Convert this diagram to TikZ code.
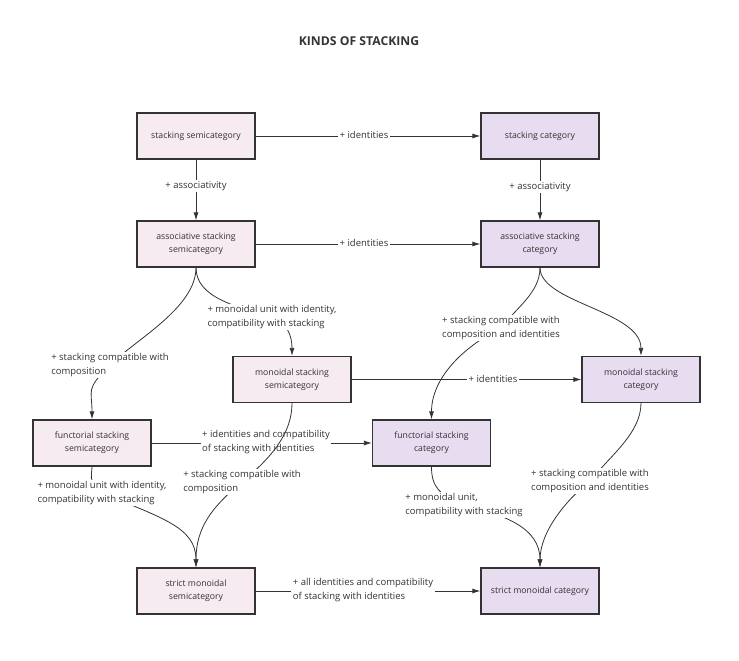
\documentclass[tikz,border=0pt]{standalone}
\usepackage{fontspec}
\setmainfont{Open Sans}
\usetikzlibrary{arrows.meta}
\definecolor{semi}{HTML}{F6EBF0}
\definecolor{cat}{HTML}{E8DCF0}
\definecolor{ink}{HTML}{333333}
\begin{document}
\begin{tikzpicture}[x=1pt,y=-1pt,
  box/.style={draw=ink, line width=1.3pt, minimum width=118pt, minimum height=46pt, align=center, font=\fontsize{8.7}{13}\selectfont, text=ink, inner sep=0pt},
  semibox/.style={box, fill=semi},
  catbox/.style={box, fill=cat},
  lab/.style={fill=white, align=left, font=\fontsize{9.5}{14}\selectfont, text=ink, inner sep=1.5pt},
  arr/.style={draw=ink, line width=0.8pt, -{Latex[length=8pt,width=5pt]}}]
\useasboundingbox (0,0) rectangle (739,661);
\node[font=\bfseries\fontsize{12.2}{14}\selectfont, text=ink] (T) at (359,41) {KINDS OF STACKING};
% boxes
\node[semibox] (A1) at (196,136) {stacking semicategory};
\node[catbox] (A2) at (540,136) {stacking category};
\node[semibox] (A3) at (196,244) {associative stacking\\semicategory};
\node[catbox] (A4) at (540,244) {associative stacking\\category};
\node[semibox] (A5) at (292,379.5) {monoidal stacking\\semicategory};
\node[catbox] (A6) at (641,379.5) {monoidal stacking\\category};
\node[semibox] (A7) at (92,443) {functorial stacking\\semicategory};
\node[catbox] (A8) at (431.5,443) {functorial stacking\\category};
\node[semibox] (A9) at (196,591) {strict monoidal\\semicategory};
\node[catbox] (A10) at (540,591) {strict monoidal category};
% straight edges
\draw[arr] (A1.east) -- (A2.west);
\draw[arr] (A3.east) -- (A4.west);
\draw[arr] (A1.south) -- (A3.north);
\draw[arr] (A2.south) -- (A4.north);
\draw[arr] (A5.east) -- (A6.west);
\draw[arr] (A7.east) -- (A8.west);
\draw[arr] (A9.east) -- (A10.west);
\node[lab] (L12) at (364,135) {+ identities};
\node[lab] (L34) at (364,243) {+ identities};
\node[lab] (L13) at (196,186) {+ associativity};
\node[lab] (L24) at (540,187) {+ associativity};
\node[lab] (L56) at (493,379) {+ identities};
\node[lab] (L78) at (266,442) {+ identities and compatibility\\of stacking with identities};
\node[lab] (L910) at (363,590) {+ all identities and compatibility\\of stacking with identities};
% curved edge label positions
\coordinate (C37) at (110,365);
\coordinate (C35) at (272,317);
\coordinate (C48) at (501,328);
\coordinate (C610) at (590,481);
\coordinate (C810) at (464,505);
\coordinate (C79) at (102,493);
\coordinate (C59) at (242,482);
% curved edges
\draw[arr] (A3.south) .. controls +(0,40) and +(25,-25) .. (C37) .. controls +(-25,25) and +(0,-30) .. (A7.north);
\draw[arr] (A3.south) .. controls +(0,30) and +(-35,-10) .. (C35) .. controls +(15,5) and +(0,-20) .. (A5.north);
\draw[arr] (A4.south) .. controls +(0,25) and +(15,-20) .. (C48) .. controls +(-40,20) and +(0,-40) .. (A8.north);
\draw[arr] (A4.south) .. controls +(0,35) and +(0,-45) .. (A6.north);
\draw[arr] (A6.south) .. controls +(0,30) and +(20,-25) .. (C610) .. controls +(-25,20) and +(0,-35) .. (A10.north);
\draw[arr] (A8.south) .. controls +(0,20) and +(-25,-10) .. (C810) .. controls +(40,10) and +(0,-40) .. (A10.north);
\draw[arr] (A7.south) .. controls +(0,10) and +(-15,-15) .. (C79) .. controls +(60,25) and +(0,-40) .. (A9.north);
\draw[arr] (A5.south) .. controls +(0,30) and +(30,-25) .. (C59) .. controls +(-30,25) and +(0,-40) .. (A9.north);
% curved edge labels
\node[lab] (L37) at (C37) {+ stacking compatible with\\composition};
\node[lab] (L35) at (C35) {+ monoidal unit with identity,\\compatibility with stacking};
\node[lab] (L48) at (C48) {+ stacking compatible with\\composition and identities};
\node[lab] (L610) at (C610) {+ stacking compatible with\\composition and identities};
\node[lab] (L810) at (C810) {+ monoidal unit,\\compatibility with stacking};
\node[lab] (L79) at (C79) {+ monoidal unit with identity,\\compatibility with stacking};
\node[lab] (L59) at (C59) {+ stacking compatible with\\composition};
\end{tikzpicture}
\end{document}
